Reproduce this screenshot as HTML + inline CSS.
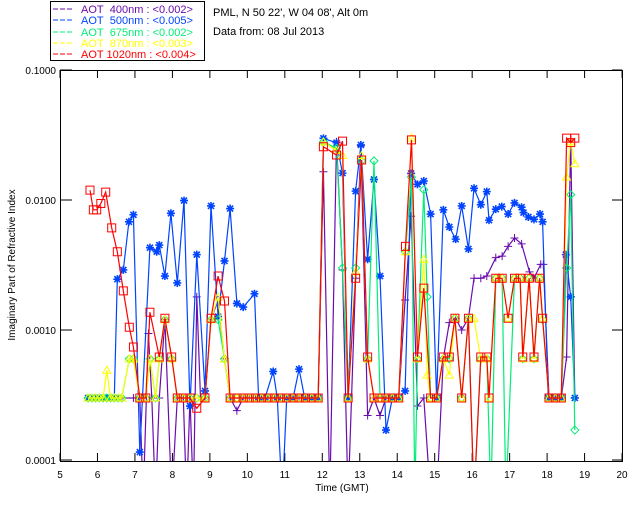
<!DOCTYPE html>
<html><head><meta charset="utf-8"><style>
body{margin:0;background:#fff;}
svg{display:block;font-family:"Liberation Sans",sans-serif;font-size:11px;}
</style></head><body>
<svg id="chart" width="640" height="512" viewBox="0 0 640 512">
<rect x="0" y="0" width="640" height="512" fill="#fff"/>
<g>
<rect x="50.5" y="1.5" width="154" height="59" fill="#fff" stroke="#000"/>
<g><line x1="53" y1="9" x2="74" y2="9" stroke="#6a0dad" stroke-dasharray="5,2"/><text x="81" y="13" fill="#6a0dad">AOT&#160;&#160;400nm : &lt;0.002&gt;</text></g>
<g><line x1="53" y1="20" x2="74" y2="20" stroke="#0044ff" stroke-dasharray="5,2"/><text x="81" y="24" fill="#0044ff">AOT&#160;&#160;500nm : &lt;0.005&gt;</text></g>
<g><line x1="53" y1="32" x2="74" y2="32" stroke="#00ee77" stroke-dasharray="5,2"/><text x="81" y="36" fill="#00ee77">AOT&#160;&#160;675nm : &lt;0.002&gt;</text></g>
<g><line x1="53" y1="43" x2="74" y2="43" stroke="#ffff00" stroke-dasharray="5,2"/><text x="81" y="47" fill="#ffff00">AOT&#160;&#160;870nm : &lt;0.003&gt;</text></g>
<g><line x1="53" y1="54" x2="74" y2="54" stroke="#ff0000" stroke-dasharray="5,2"/><text x="81" y="58" fill="#ff0000">AOT 1020nm : &lt;0.004&gt;</text></g>
</g>
<text x="213" y="16" fill="#000">PML, N 50 22', W 04 08', Alt 0m</text>
<text x="213" y="35" fill="#000">Data from: 08 Jul 2013</text>
<text transform="translate(15,265) rotate(-90)" text-anchor="middle" fill="#000" font-size="10">Imaginary Part of Refractive Index</text>
<text x="342" y="491" text-anchor="middle" fill="#000" font-size="10">Time (GMT)</text>
<g id="axes"></g>
<defs><clipPath id="pc"><rect x="60" y="70" width="562" height="391"/></clipPath></defs>
<g id="plot" clip-path="url(#pc)"></g>
<rect x="60.5" y="70.5" width="562" height="391" fill="none" stroke="#000"/>
</svg>
<script>
const xTicks=[5,6,7,8,9,10,11,12,13,14,15,16,17,18,19,20];
const yTicks=[0.0001,0.001,0.01,0.1];
const yTickLabels=["0.0001","0.0010","0.0100","0.1000"];
const t400=[5.75,5.85,5.95,6.05,6.15,6.25,6.35,6.45,6.55,6.65,6.96,7.13,7.22,7.36,7.45,7.55,7.65,7.8,7.98,8.13,8.29,8.38,8.47,8.56,8.65,8.75,8.87,9.03,9.22,9.39,9.54,9.72,9.89,10.05,10.22,10.38,10.55,10.72,10.88,11.05,11.22,11.38,11.55,11.72,11.89,12.03,12.2,12.38,12.54,12.69,12.89,13.03,13.21,13.38,13.54,13.7,13.87,14.04,14.21,14.37,14.54,14.71,14.89,15.05,15.23,15.39,15.56,15.72,15.9,16.05,16.23,16.39,16.63,16.8,16.96,17.13,17.32,17.53,17.65,17.83,17.9,18.05,18.22,18.38,18.52,18.63,18.74];
const v400=[0.0003,0.0003,0.0003,0.0003,0.0003,0.0003,0.0003,0.0003,0.0003,0.0003,0.0003,0.0003,0.00005,0.00094,0.0003,0.00005,0.0003,0.0012,0.00005,0.0003,0.0003,0.00005,0.0003,0.00005,0.0018,0.0003,0.0003,0.0012,0.0017,0.0006,0.0003,0.00024,0.0003,0.0003,0.0003,0.0003,0.0003,0.0003,0.0003,0.0003,0.0003,0.0003,0.0003,0.0003,0.0003,0.0165,0.00005,0.028,0.0029,0.00005,0.0025,0.026,0.00022,0.0003,0.00022,0.0003,0.0003,0.0003,0.0017,0.0075,0.00026,0.0003,0.00005,0.00005,0.0006,0.00114,0.00123,0.001,0.00123,0.0025,0.0025,0.0026,0.0036,0.0037,0.0044,0.0051,0.0046,0.0028,0.0025,0.0032,0.0032,0.0003,0.0003,0.0003,0.00062,0.029,0.0003];
const t500=[5.75,5.85,5.95,6.05,6.15,6.25,6.35,6.45,6.53,6.69,6.84,6.96,7.13,7.4,7.58,7.65,7.8,7.96,8.13,8.31,8.47,8.65,8.87,9.03,9.22,9.39,9.54,9.72,9.89,10.19,10.3,10.47,10.69,10.8,10.93,11.05,11.22,11.38,11.53,11.72,11.89,12.03,12.38,12.54,12.69,12.89,13.03,13.21,13.38,13.54,13.7,13.87,14.04,14.21,14.37,14.54,14.71,14.89,15.05,15.23,15.39,15.56,15.72,15.9,16.05,16.23,16.39,16.45,16.63,16.79,16.96,17.13,17.32,17.37,17.5,17.65,17.81,17.88,18.03,18.2,18.38,18.5,18.63,18.74];
const v500=[0.0003,0.0003,0.0003,0.0003,0.0003,0.0003,0.0003,0.0003,0.00246,0.0029,0.0068,0.0077,0.000115,0.0043,0.004,0.0045,0.0026,0.0079,0.0023,0.0099,0.00026,0.0038,0.00034,0.009,0.00127,0.0034,0.0086,0.0016,0.0015,0.0019,0.0003,0.0003,0.00048,0.0003,0.00005,0.0003,0.0003,0.0005,0.0003,0.0003,0.0003,0.0298,0.0276,0.0161,0.0003,0.0117,0.0265,0.0035,0.0144,0.0026,0.00017,0.0003,0.0003,0.00034,0.016,0.0132,0.014,0.0078,0.0003,0.0084,0.0062,0.005,0.009,0.0042,0.0123,0.0092,0.0116,0.007,0.0085,0.0089,0.0078,0.0095,0.0088,0.008,0.0074,0.0071,0.0078,0.0068,0.0003,0.0003,0.0003,0.0038,0.0018,0.0003];
const t675=[5.75,5.85,5.95,6.05,6.15,6.25,6.35,6.45,6.55,6.65,6.85,6.96,7.13,7.29,7.4,7.55,7.65,7.8,7.98,8.13,8.29,8.47,8.65,8.87,9.03,9.22,9.39,9.54,9.72,9.89,10.05,10.22,10.38,10.55,10.72,10.88,11.05,11.22,11.38,11.55,11.72,11.89,12.03,12.38,12.54,12.69,12.89,13.05,13.21,13.38,13.54,13.7,13.87,14.04,14.22,14.38,14.47,14.54,14.71,14.8,14.89,15.05,15.23,15.39,15.54,15.72,15.9,16.05,16.23,16.39,16.5,16.63,16.8,16.9,17.13,17.28,17.35,17.52,17.65,17.8,17.88,18.05,18.22,18.38,18.52,18.63,18.74];
const v675=[0.0003,0.0003,0.0003,0.0003,0.0003,0.0003,0.0003,0.0003,0.0003,0.0003,0.0006,0.0006,0.0003,0.0003,0.0006,0.0003,0.0006,0.0012,0.0006,0.0003,0.0003,0.0003,0.0003,0.0003,0.0012,0.0012,0.0006,0.0003,0.0003,0.0003,0.0003,0.0003,0.0003,0.0003,0.0003,0.0003,0.0003,0.0003,0.0003,0.0003,0.0003,0.0003,0.028,0.025,0.003,0.0003,0.003,0.02,0.0006,0.02,0.0003,0.0003,0.0003,0.0003,0.004,0.015,0.00005,0.0006,0.012,0.0018,0.0003,0.0003,0.0006,0.0006,0.00123,0.0003,0.00123,0.00005,0.0006,0.0006,0.00005,0.0025,0.0025,0.00005,0.0025,0.0025,0.0006,0.0025,0.0006,0.0025,0.0012,0.0003,0.0003,0.0003,0.003,0.011,0.00017];
const t870=[5.75,5.85,5.95,6.05,6.15,6.25,6.35,6.45,6.55,6.65,6.85,6.96,7.13,7.29,7.4,7.55,7.65,7.8,7.98,8.13,8.29,8.47,8.65,8.87,9.03,9.22,9.39,9.54,9.72,9.89,10.05,10.22,10.38,10.55,10.72,10.88,11.05,11.22,11.38,11.55,11.72,11.89,12.03,12.38,12.54,12.69,12.89,13.05,13.21,13.38,13.54,13.7,13.87,14.04,14.22,14.38,14.54,14.71,14.8,14.89,15.05,15.23,15.39,15.54,15.72,15.9,16.05,16.23,16.39,16.45,16.63,16.8,16.96,17.13,17.28,17.35,17.52,17.65,17.8,17.88,18.05,18.22,18.38,18.52,18.63,18.74];
const v870=[0.0003,0.0003,0.0003,0.0003,0.0003,0.00049,0.0003,0.0003,0.0003,0.0003,0.0006,0.0006,0.0003,0.0003,0.0006,0.0003,0.0006,0.0012,0.0006,0.0003,0.0003,0.0003,0.0003,0.0003,0.0012,0.0018,0.0006,0.0003,0.0003,0.0003,0.0003,0.0003,0.0003,0.0003,0.0003,0.0003,0.0003,0.0003,0.0003,0.0003,0.0003,0.0003,0.028,0.024,0.022,0.0003,0.0028,0.022,0.0006,0.0003,0.0003,0.0003,0.0003,0.0003,0.004,0.03,0.0006,0.0035,0.00045,0.0003,0.0003,0.0006,0.00045,0.00123,0.0003,0.00123,0.00123,0.0006,0.0006,0.0003,0.0025,0.0025,0.00123,0.0025,0.0025,0.0006,0.0025,0.0006,0.0025,0.00123,0.0003,0.0003,0.0003,0.015,0.028,0.019];
const t1020=[5.8,5.89,5.98,6.09,6.22,6.38,6.53,6.69,6.85,6.96,7.13,7.29,7.4,7.65,7.8,7.98,8.13,8.29,8.47,8.65,8.87,9.03,9.22,9.39,9.54,9.72,9.89,10.05,10.22,10.38,10.55,10.72,10.88,11.05,11.22,11.38,11.55,11.72,11.89,12.03,12.38,12.54,12.69,12.89,13.05,13.21,13.38,13.54,13.7,13.87,14.04,14.22,14.38,14.54,14.71,14.89,15.05,15.23,15.39,15.54,15.72,15.9,16.05,16.23,16.39,16.45,16.63,16.8,16.96,17.13,17.28,17.35,17.52,17.65,17.8,17.88,18.05,18.22,18.38,18.52,18.63,18.74];
const v1020=[0.0119,0.0084,0.0084,0.0094,0.0115,0.0061,0.004,0.002,0.00105,0.00074,0.0003,0.0003,0.00137,0.00062,0.00123,0.00062,0.0003,0.0003,0.0003,0.00025,0.0003,0.00123,0.0026,0.00167,0.0003,0.0003,0.0003,0.0003,0.0003,0.0003,0.0003,0.0003,0.0003,0.0003,0.0003,0.0003,0.0003,0.0003,0.0003,0.0257,0.0222,0.0284,0.0003,0.0025,0.0203,0.00062,0.0003,0.0003,0.0003,0.0003,0.0003,0.0044,0.029,0.00062,0.0021,0.0003,0.0003,0.00062,0.00062,0.00123,0.0003,0.00123,0.00005,0.00062,0.00062,0.0003,0.0025,0.0025,0.00123,0.0025,0.0025,0.00062,0.0025,0.00062,0.0025,0.00123,0.0003,0.0003,0.0003,0.0299,0.0276,0.0299];

const NS="http://www.w3.org/2000/svg";
function X(t){return 60+(t-5)*37.47;}
function Y(v){return 200-130*Math.log10(v/0.01);}
function mk(tag,attrs,parent){const e=document.createElementNS(NS,tag);for(const k in attrs)e.setAttribute(k,attrs[k]);parent.appendChild(e);return e;}
const axes=document.getElementById('axes');
const plot=document.getElementById('plot');
xTicks.forEach((t,i)=>{
  const x=X(t);
  const tk=mk('path',{d:`M${x},461V453M${x},70V78`,stroke:'#000',fill:'none'},axes);
  
  
  const lb=mk('text',{x:x,y:478,'text-anchor':'middle',fill:'#000','font-size':'10'},axes);
  lb.textContent=String(t);
  
  
});
yTicks.forEach((v,i)=>{
  const y=Y(v);
  const tk=mk('path',{d:`M60,${y}H72M622,${y}H612`,stroke:'#000',fill:'none'},axes);
  
  
  const lb=mk('text',{x:56,y:y+4,'text-anchor':'end',fill:'#000','font-size':'10'},axes);
  lb.textContent=yTickLabels[i];
  
  
});
function marker(type,x,y,c,g){
  let d;
  if(type==='plus')d=`M${x-4},${y}H${x+4}M${x},${y-4}V${y+4}`;
  else if(type==='star')d=`M${x-4},${y}H${x+4}M${x},${y-4}V${y+4}M${x-3},${y-3}L${x+3},${y+3}M${x-3},${y+3}L${x+3},${y-3}`;
  else if(type==='diamond')d=`M${x},${y-4}L${x+4},${y}L${x},${y+4}L${x-4},${y}Z`;
  else if(type==='tri')d=`M${x},${y-4}L${x+4},${y+3}L${x-4},${y+3}Z`;
  else d=`M${x-4},${y-4}H${x+4}V${y+4}H${x-4}Z`;
  return mk('path',{d:d,stroke:c,fill:'none','stroke-width':(type==='star'?1.6:1)},g);
}
const series=[[t400,v400,'#6a0dad','plus','series-400nm'],[t500,v500,'#0044ff','star','series-500nm'],[t675,v675,'#00ee77','diamond','series-675nm'],[t870,v870,'#ffff00','tri','series-870nm'],[t1020,v1020,'#ff0000','square','series-1020nm']];
series.forEach(s=>{
  const [ts,vs,c,m,name]=s;
  const g=mk('g',{},plot);
  
  
  const pts=ts.map((t,i)=>X(t).toFixed(1)+','+Y(vs[i]).toFixed(1)).join(' ');
  const ln=mk('polyline',{points:pts,fill:'none',stroke:c,'stroke-width':1.2},g);
  
  
  ts.forEach((t,i)=>{
    const p=marker(m,X(t),Y(vs[i]),c,g);
    
    
  });
});
</script>
</body></html>
